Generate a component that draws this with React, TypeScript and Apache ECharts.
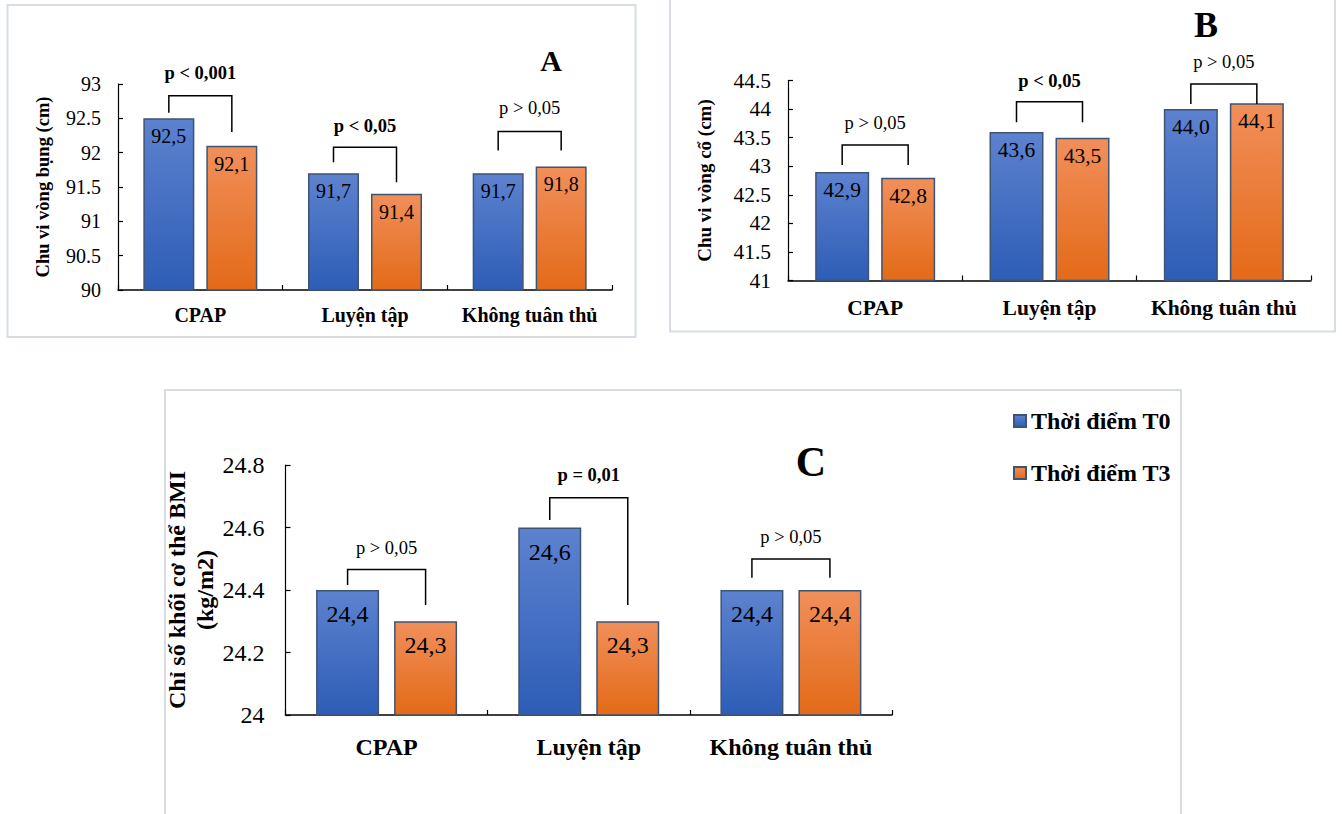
import React, { useEffect, useRef } from "react";
import * as echarts from "echarts";

const categories = ["CPAP", "Luyện tập", "Không tuân thủ"];
const seriesNames = ["Thời điểm T0", "Thời điểm T3"];

// Panel A: waist circumference (cm)
const waistT0 = [92.5, 91.7, 91.7];
const waistT3 = [92.1, 91.4, 91.8];
// Panel B: neck circumference (cm)
const neckT0 = [42.9, 43.6, 44.0];
const neckT3 = [42.8, 43.5, 44.1];
// Panel C: BMI (kg/m2)
const bmiT0 = [24.4, 24.6, 24.4];
const bmiT3 = [24.3, 24.3, 24.4];

// y-axis scales
const waistAxis = { min: 90, max: 93, interval: 0.5 };
const neckAxis = { min: 41, max: 44.5, interval: 0.5 };
const bmiAxis = { min: 24, max: 24.8, interval: 0.2 };

// p-value brackets: [categoryIndex, bracketTop, leftLegEnd, rightLegEnd, labelLevel]
const waistBrackets = [
  [0, 92.83, 92.58, 92.3, 93.16],
  [1, 92.08, 91.86, 91.57, 92.39],
  [2, 92.31, 92.03, 92.03, 92.65],
];
const waistPText = ["p < 0,001", "p < 0,05", "p > 0,05"];
const waistPBold = [true, true, false];

const neckBrackets = [
  [0, 43.37, 43.02, 43.02, 43.76],
  [1, 44.13, 43.77, 43.77, 44.5],
  [2, 44.44, 44.09, 44.09, 44.82],
];
const neckPText = ["p > 0,05", "p < 0,05", "p > 0,05"];
const neckPBold = [false, true, false];

const bmiBrackets = [
  [0, 24.466, 24.416, 24.352, 24.534],
  [1, 24.695, 24.624, 24.352, 24.768],
  [2, 24.499, 24.439, 24.439, 24.571],
];
const bmiPText = ["p > 0,05", "p = 0,01", "p > 0,05"];
const bmiPBold = [false, true, false];

const FONT = "Liberation Serif";

const blueGrad = () =>
  new echarts.graphic.LinearGradient(0, 0, 0, 1, [
    { offset: 0, color: "#5d82cf" },
    { offset: 1, color: "#2d5db6" },
  ]);
const orangeGrad = () =>
  new echarts.graphic.LinearGradient(0, 0, 0, 1, [
    { offset: 0, color: "#f18f5a" },
    { offset: 1, color: "#e36a18" },
  ]);

type PanelCfg = {
  grid: { left: number; top: number; width: number; height: number };
  t0: number[];
  t3: number[];
  axis: { min: number; max: number; interval: number };
  yName: string;
  nameGap: number;
  fs: number;
  nameFs: number;
  yLabelMargin: number;
  xLabelMargin: number;
  barWidth: number;
  gap: number;
  labelDist: number;
  brackets: number[][];
  pText: string[];
  pBold: boolean[];
  nameLineHeight?: number;
};

const fmt = (p: any) => Number(p.value).toFixed(1).replace(".", ",");

export default function App() {
  const ref = useRef<HTMLDivElement>(null);

  useEffect(() => {
    if (!ref.current) return;
    const chart = echarts.init(ref.current, undefined, { renderer: "svg" });

    const panels: PanelCfg[] = [
      {
        grid: { left: 118, top: 84, width: 494, height: 206 },
        t0: waistT0,
        t3: waistT3,
        axis: waistAxis,
        yName: "Chu vi vòng bụng (cm)",
        nameGap: 66,
        fs: 20,
        nameFs: 18.5,
        yLabelMargin: 17,
        xLabelMargin: 15,
        barWidth: 51,
        gap: 12,
        labelDist: 8,
        brackets: waistBrackets,
        pText: waistPText,
        pBold: waistPBold,
      },
      {
        grid: { left: 788, top: 80.5, width: 523, height: 200 },
        t0: neckT0,
        t3: neckT3,
        axis: neckAxis,
        yName: "Chu vi vòng cổ (cm)",
        nameGap: 74,
        fs: 21.5,
        nameFs: 19,
        yLabelMargin: 17,
        xLabelMargin: 16,
        barWidth: 54,
        gap: 12,
        labelDist: 7,
        brackets: neckBrackets,
        pText: neckPText,
        pBold: neckPBold,
      },
      {
        grid: { left: 285.5, top: 465, width: 606.5, height: 250 },
        t0: bmiT0,
        t3: bmiT3,
        axis: bmiAxis,
        yName: "Chỉ số khối cơ thể BMI\n(kg/m2)",
        nameGap: 60,
        fs: 24,
        nameFs: 24,
        yLabelMargin: 21,
        xLabelMargin: 20,
        barWidth: 63,
        gap: 15,
        labelDist: 12,
        brackets: bmiBrackets,
        pText: bmiPText,
        pBold: bmiPBold,
        nameLineHeight: 28,
      },
    ];

    const grids: any[] = [];
    const xAxes: any[] = [];
    const yAxes: any[] = [];
    const series: any[] = [];

    panels.forEach((p, i) => {
      grids.push({ ...p.grid, containLabel: false });
      xAxes.push({
        type: "category",
        gridIndex: i,
        data: categories,
        axisLine: { show: true, lineStyle: { color: "#000", width: 1.5 } },
        axisTick: { show: true, inside: true, length: 5, lineStyle: { color: "#000", width: 1.2 } },
        axisLabel: {
          interval: 0,
          color: "#000",
          fontFamily: FONT,
          fontWeight: "bold",
          fontSize: p.fs,
          margin: p.xLabelMargin,
        },
      });
      yAxes.push({
        type: "value",
        gridIndex: i,
        min: p.axis.min,
        max: p.axis.max,
        interval: p.axis.interval,
        splitLine: { show: false },
        axisLine: { show: true, lineStyle: { color: "#000", width: 1.2 } },
        axisTick: { show: true, inside: true, length: 5, lineStyle: { color: "#000", width: 1.2 } },
        axisLabel: {
          color: "#000",
          fontFamily: FONT,
          fontSize: p.fs,
          margin: p.yLabelMargin,
        },
        name: p.yName,
        nameLocation: "middle",
        nameRotate: 90,
        nameGap: p.nameGap,
        nameTextStyle: {
          color: "#000",
          fontFamily: FONT,
          fontWeight: "bold",
          fontSize: p.nameFs,
          lineHeight: p.nameLineHeight,
        },
      });

      const barGap = `${((p.gap / p.barWidth) * 100).toFixed(1)}%`;
      const labelCfg = {
        show: true,
        position: "insideTop",
        distance: p.labelDist,
        formatter: fmt,
        color: "#000",
        fontFamily: FONT,
        fontSize: p.fs,
      };
      series.push({
        type: "bar",
        name: seriesNames[0],
        xAxisIndex: i,
        yAxisIndex: i,
        data: p.t0,
        barWidth: p.barWidth,
        barGap,
        itemStyle: { color: blueGrad(), borderColor: "#3e5474", borderWidth: 1.5 },
        label: labelCfg,
      });
      series.push({
        type: "bar",
        name: seriesNames[1],
        xAxisIndex: i,
        yAxisIndex: i,
        data: p.t3,
        barWidth: p.barWidth,
        barGap,
        itemStyle: { color: orangeGrad(), borderColor: "#3e5474", borderWidth: 1.5 },
        label: labelCfg,
      });

      const off = (p.barWidth + p.gap) / 2;
      series.push({
        type: "custom",
        name: "brackets" + i,
        xAxisIndex: i,
        yAxisIndex: i,
        clip: false,
        z: 5,
        encode: { x: 0, y: 1 },
        data: p.brackets,
        renderItem: (params: any, api: any) => {
          const cat = api.value(0);
          const top = api.coord([cat, api.value(1)]);
          const l = api.coord([cat, api.value(2)]);
          const r = api.coord([cat, api.value(3)]);
          const lab = api.coord([cat, api.value(4)]);
          const cx = top[0];
          const xL = cx - off;
          const xR = cx + off;
          const idx = params.dataIndex;
          return {
            type: "group",
            children: [
              {
                type: "polyline",
                shape: {
                  points: [
                    [xL, l[1]],
                    [xL, top[1]],
                    [xR, top[1]],
                    [xR, r[1]],
                  ],
                },
                style: { stroke: "#000", lineWidth: 1.5, fill: null },
              },
              {
                type: "text",
                x: cx,
                y: lab[1],
                style: {
                  text: p.pText[idx],
                  fontFamily: FONT,
                  fontSize: 18.5,
                  fontWeight: p.pBold[idx] ? "bold" : "normal",
                  fill: "#000",
                  align: "center",
                  verticalAlign: "middle",
                },
              },
            ],
          };
        },
      });
    });

    const titleStyle = (text: string, size: number) => ({
      text,
      fontFamily: FONT,
      fontSize: size,
      fontWeight: "bold",
      fill: "#000",
      align: "center",
      verticalAlign: "middle",
    });

    chart.setOption({
      animation: false,
      backgroundColor: "#fff",
      textStyle: { fontFamily: FONT },
      grid: grids,
      xAxis: xAxes,
      yAxis: yAxes,
      series,
      legend: {
        data: seriesNames,
        orient: "vertical",
        left: 1008,
        top: 404,
        icon: "rect",
        itemWidth: 12,
        itemHeight: 12,
        itemGap: 28,
        textStyle: { color: "#000", fontFamily: FONT, fontSize: 24, fontWeight: "bold" },
      },
      graphic: [
        {
          type: "rect",
          shape: { x: 7.5, y: 5, width: 628, height: 332 },
          style: { fill: "none", stroke: "#d8dde4", lineWidth: 2 },
          silent: true,
          z: -10,
        },
        {
          type: "rect",
          shape: { x: 670, y: -3, width: 665, height: 334.5 },
          style: { fill: "none", stroke: "#d8dde4", lineWidth: 2 },
          silent: true,
          z: -10,
        },
        {
          type: "rect",
          shape: { x: 165, y: 390, width: 1016, height: 440 },
          style: { fill: "none", stroke: "#d8dde4", lineWidth: 2 },
          silent: true,
          z: -10,
        },
        { type: "text", x: 551, y: 60, style: titleStyle("A", 30) },
        { type: "text", x: 1206, y: 25, style: titleStyle("B", 36) },
        { type: "text", x: 811, y: 462, style: titleStyle("C", 42) },
      ],
    });

    return () => chart.dispose();
  }, []);

  return (
    <div
      ref={ref}
      style={{ position: "absolute", left: 0, top: 0, width: 1342, height: 814 }}
    />
  );
}
